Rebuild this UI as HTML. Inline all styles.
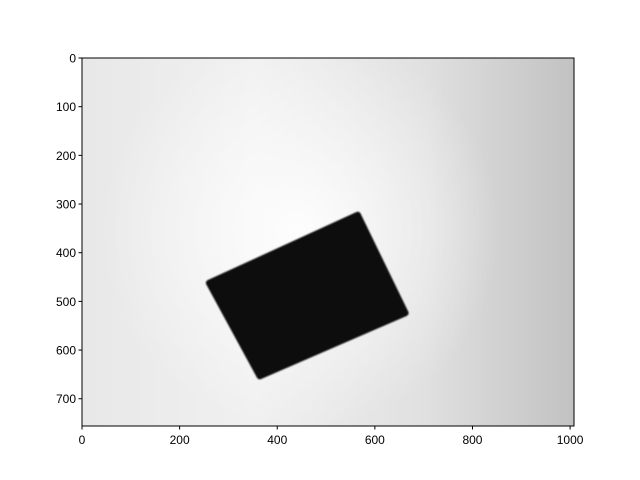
<!DOCTYPE html>
<html><head><meta charset="utf-8"><style>
body{margin:0;background:#fff;}
svg{display:block;font-family:"Liberation Sans","DejaVu Sans",sans-serif;}
</style></head><body>
<svg id="chart" width="640" height="480" viewBox="0 0 640 480" xmlns="http://www.w3.org/2000/svg">
<defs>
<linearGradient id="lin" x1="0" y1="0" x2="1" y2="0">
<stop offset="0" stop-color="#e8e8e8"/>
<stop offset="0.35" stop-color="#f0f0f0"/>
<stop offset="0.7" stop-color="#e0e0e0"/>
<stop offset="1" stop-color="#c2c2c2"/>
</linearGradient>
<radialGradient id="glow" gradientUnits="userSpaceOnUse" cx="300" cy="230" r="200">
<stop offset="0" stop-color="#fff" stop-opacity="0.9"/>
<stop offset="1" stop-color="#fff" stop-opacity="0"/>
</radialGradient>
<filter id="blur"><feGaussianBlur stdDeviation="0.8"/></filter>
<clipPath id="clip"><rect x="82" y="58" width="492" height="368"/></clipPath>
</defs>
<g id="plot" clip-path="url(#clip)"></g>
<g id="axes"></g>
</svg>
<script>
const xTicks=[0,200,400,600,800,1000];
const yTicks=[0,100,200,300,400,500,600,700];
const imgW=1008, imgH=756;
// card corner positions in image pixel coords (left, top, right, bottom)
const cardX=[260,565,663,364];
const cardY=[462,322,524,654];
const L=82,T=58,W=492,H=368;
const sx=v=>L+v*W/imgW, sy=v=>T+v*H/imgH;
const NS="http://www.w3.org/2000/svg";
const plot=document.getElementById('plot'), axes=document.getElementById('axes');
function mk(tag,attrs,parent){const e=document.createElementNS(NS,tag);for(const k in attrs)e.setAttribute(k,attrs[k]);parent.appendChild(e);return e;}
const bg=mk('rect',{x:L,y:T,width:W,height:H,fill:'url(#lin)'},plot);


const glow=mk('rect',{x:L,y:T,width:W,height:H,fill:'url(#glow)'},plot);


const pts=cardX.map((x,i)=>sx(x)+','+sy(cardY[i])).join(' ');
const card=mk('polygon',{points:pts,fill:'#0b0b0b',stroke:'#0b0b0b','stroke-width':6,'stroke-linejoin':'round',filter:'url(#blur)'},plot);


const frame=mk('rect',{x:L,y:T,width:W,height:H,fill:'none',stroke:'#000','stroke-width':1},axes);


xTicks.forEach(v=>{const x=sx(v);
 mk('line',{x1:x,x2:x,y1:T+H,y2:T+H+3.5,stroke:'#000'},axes);
 const t=mk('text',{x:x,y:T+H+18,'text-anchor':'middle','font-size':12},axes);t.textContent=v;
 
 });
yTicks.forEach(v=>{const y=sy(v);
 mk('line',{x1:L-3.5,x2:L,y1:y,y2:y,stroke:'#000'},axes);
 const t=mk('text',{x:L-6,y:y+4.5,'text-anchor':'end','font-size':12},axes);t.textContent=v;
 
 });
</script>
</body></html>
